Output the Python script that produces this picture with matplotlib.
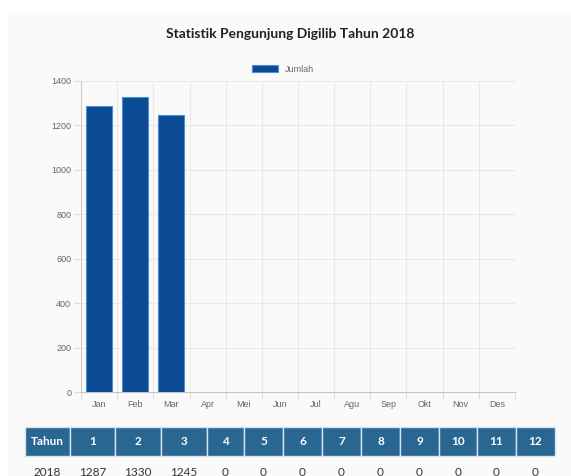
import matplotlib
matplotlib.use("Agg")
import matplotlib.pyplot as plt
from matplotlib.patches import Rectangle

# Data
months = ["Jan", "Feb", "Mar", "Apr", "Mei", "Jun", "Jul", "Agu", "Sep", "Okt", "Nov", "Des"]
visitors = [1287, 1330, 1245, 0, 0, 0, 0, 0, 0, 0, 0, 0]
year = 2018
y_ticks = [0, 200, 400, 600, 800, 1000, 1200, 1400]

W, H = 571, 476
fig = plt.figure(figsize=(W / 100, H / 100), dpi=100)
fig.patch.set_facecolor("white")

def px(x, y):
    return x / W, 1 - y / H

# card background
fig.patches.append(Rectangle((8 / W, 0), 1, 1 - 12 / H, transform=fig.transFigure,
                             facecolor="#fafafa", edgecolor="none", zorder=-10))

# chart area
ax = fig.add_axes([81 / W, (H - 392) / H, 434 / W, 311 / H])
ax.set_facecolor("none")
x = list(range(len(months)))
ax.bar(x, visitors, width=0.72, color="#0b4a94", edgecolor="#4d8fd4",
       linewidth=[0.8 if v else 0 for v in visitors], label="Jumlah", zorder=3)
ax.set_xlim(-0.5, len(months) - 0.5)
ax.set_ylim(0, 1400)
ax.set_yticks(y_ticks)
ax.set_xticks(x)
ax.set_xticklabels(months)
ax.set_xticks([i - 0.5 for i in range(len(months) + 1)], minor=True)
ax.grid(False)
for i in range(len(months) + 1):
    ax.axvline(i - 0.5, color="#e8e8e8", lw=0.8, zorder=1)
for t in y_ticks:
    ax.axhline(t, color="#e8e8e8", lw=0.8, zorder=1)
ax.tick_params(axis="x", which="major", length=0, pad=6, labelsize=6.5, labelcolor="#666666")
ax.tick_params(axis="x", which="minor", length=5, color="#dddddd", width=0.8)
ax.tick_params(axis="y", length=5, color="#dddddd", width=0.8, pad=2, labelsize=6.5,
               labelcolor="#666666")
for lab in ax.get_xticklabels() + ax.get_yticklabels():
    lab.set_fontfamily("Liberation Sans")
for side in ["top", "right"]:
    ax.spines[side].set_visible(False)
ax.spines["left"].set_color("#cccccc")
ax.spines["bottom"].set_color("#c4c4c4")
ax.spines["left"].set_linewidth(0.8)
ax.spines["bottom"].set_linewidth(0.8)

# title
fig.text(*px(290, 34), f"Statistik Pengunjung Digilib Tahun {year}", ha="center", va="center",
         fontsize=10, fontweight="bold", family="Lato", color="#222222")

# legend
lx, ly = px(252, 72)
fig.patches.append(Rectangle((lx, ly), 26 / W, 7 / H, transform=fig.transFigure,
                             facecolor="#0b4a94", edgecolor="#4d8fd4", linewidth=0.8))
fig.text(*px(285, 69), "Jumlah", ha="left", va="center", fontsize=6.5,
         family="Liberation Sans", color="#666666")

# table
bounds = [25, 70, 115, 161, 207, 244, 283, 322, 361, 400, 439, 477, 516, 555]
header = ["Tahun"] + [str(i + 1) for i in range(len(months))]
row = [str(year)] + [str(v) for v in visitors]
hy0, hy1 = 427, 456
for i, (h, r) in enumerate(zip(header, row)):
    x0, x1 = bounds[i], bounds[i + 1]
    fx, fy = px(x0, hy1)
    fig.patches.append(Rectangle((fx, fy), (x1 - x0) / W, (hy1 - hy0) / H,
                                 transform=fig.transFigure, facecolor="#2a6692",
                                 edgecolor="#d5e3ee", linewidth=1.0))
    fig.text(*px((x0 + x1) / 2, (hy0 + hy1) / 2), h, ha="center", va="center",
             fontsize=8.5, fontweight="bold", family="Lato", color="white")
    fig.text(*px((x0 + x1) / 2, 472), r, ha="center", va="center",
             fontsize=8.5, family="Lato", color="#333333")

fig.savefig("out.png", dpi=100, facecolor=fig.get_facecolor())
